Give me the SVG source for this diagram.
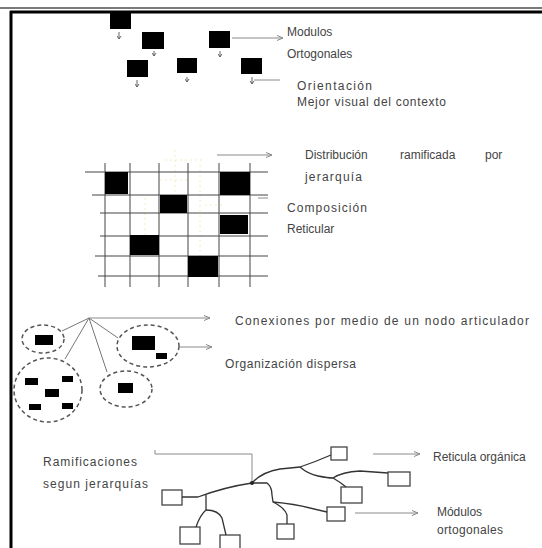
<svg xmlns="http://www.w3.org/2000/svg" width="542" height="548" viewBox="0 0 542 548">
<defs>
<marker id="ah" markerWidth="7" markerHeight="6" refX="6" refY="3" orient="auto" markerUnits="userSpaceOnUse">
<path d="M0,0.5 L6,3 L0,5.5" fill="none" stroke="#888" stroke-width="1"/>
</marker>
<marker id="tk" markerWidth="5" markerHeight="5" refX="3" refY="2.5" orient="auto" markerUnits="userSpaceOnUse">
<path d="M0,0.5 L3,2.5 L0,4.5" fill="none" stroke="#555" stroke-width="0.9"/>
</marker>
<style>
.t{font-family:"Liberation Sans",Arial,sans-serif;font-size:12px;fill:#444}
.blk{fill:#000}
.tick{stroke:#555;stroke-width:0.9}
.con{stroke:#8a8a8a;stroke-width:1;fill:none}
.grid{stroke:#444;stroke-width:1;fill:none}
.ell{fill:none;stroke:#555;stroke-width:1.5;stroke-dasharray:4 3}
.tree{stroke:#333;stroke-width:1.3;fill:none}
.box{fill:#fff;stroke:#444;stroke-width:1.3}
.yl{stroke:#f4ecc4;stroke-width:1;stroke-dasharray:2 3;fill:none}
</style>
</defs>
<rect width="542" height="548" fill="#fff"/>
<!-- frame -->
<line x1="0" y1="8" x2="542" y2="8" stroke="#7a7a7a" stroke-width="2"/>
<line x1="10" y1="12" x2="542" y2="12" stroke="#000" stroke-width="3"/>
<line x1="11" y1="11" x2="11" y2="548" stroke="#000" stroke-width="3"/>

<!-- top modules -->
<g id="mod1"><rect class="blk" x="110" y="12" width="21" height="17"/><line class="tick" x1="119" y1="32" x2="119" y2="39" marker-end="url(#tk)"/></g>
<g id="mod2"><rect class="blk" x="142" y="32" width="22" height="17"/><line class="tick" x1="154" y1="51" x2="154" y2="56" marker-end="url(#tk)"/></g>
<g id="mod3"><rect class="blk" x="127" y="60" width="21" height="17"/><line class="tick" x1="137" y1="80" x2="137" y2="87" marker-end="url(#tk)"/></g>
<g id="mod4"><rect class="blk" x="209" y="31" width="21" height="17"/><line class="tick" x1="220" y1="51" x2="220" y2="57" marker-end="url(#tk)"/></g>
<g id="mod5"><rect class="blk" x="177" y="58" width="20" height="15"/><line class="tick" x1="187" y1="77" x2="187" y2="82" marker-end="url(#tk)"/></g>
<g id="mod6"><rect class="blk" x="241" y="58" width="21" height="16"/><line class="tick" x1="252" y1="77" x2="252" y2="84" marker-end="url(#tk)"/></g>

<!-- grid -->
<g id="grid">
<g class="yl">
<path d="M175,150 L175,215"/><path d="M165,160 L205,160"/><path d="M200,165 L200,268"/><path d="M145,198 L145,238"/><path d="M205,205 L222,205"/><path d="M160,180 L190,180"/>
</g>
<g class="grid">
<line x1="85" y1="172" x2="268" y2="172"/>
<line x1="92" y1="195" x2="268" y2="195"/>
<line x1="100" y1="213" x2="268" y2="213"/>
<line x1="100" y1="236" x2="268" y2="236"/>
<line x1="95" y1="256" x2="268" y2="256"/>
<line x1="98" y1="276" x2="268" y2="276"/>
<line x1="105" y1="163" x2="105" y2="287"/>
<line x1="130" y1="163" x2="130" y2="287"/>
<line x1="159" y1="163" x2="159" y2="287"/>
<line x1="188" y1="163" x2="188" y2="287"/>
<line x1="219" y1="163" x2="219" y2="287"/>
<line x1="250" y1="163" x2="250" y2="287"/>
</g>
<rect class="blk" x="105" y="172" width="23" height="22"/>
<rect class="blk" x="220" y="172" width="30" height="23"/>
<rect class="blk" x="160" y="195" width="27" height="18"/>
<rect class="blk" x="220" y="215" width="28" height="19"/>
<rect class="blk" x="130" y="235" width="29" height="20"/>
<rect class="blk" x="188" y="256" width="30" height="21"/>
</g>

<!-- dispersed groups -->
<g id="grp1"><ellipse class="ell" cx="43" cy="339" rx="21" ry="14"/><rect class="blk" x="35" y="335" width="18" height="10"/></g>
<g id="grp2"><ellipse class="ell" cx="148" cy="346" rx="31" ry="21"/><rect class="blk" x="132" y="336" width="23" height="14"/><rect class="blk" x="156" y="353" width="11" height="6"/></g>
<g id="grp3"><ellipse class="ell" cx="126" cy="389" rx="26" ry="18"/><rect class="blk" x="118" y="383" width="15" height="10"/></g>
<g id="grp4"><ellipse class="ell" cx="48" cy="390" rx="34" ry="32"/>
<rect class="blk" x="25" y="378" width="13" height="7"/><rect class="blk" x="62" y="376" width="11" height="6"/><rect class="blk" x="45" y="389" width="14" height="8"/><rect class="blk" x="29" y="404" width="12" height="6"/><rect class="blk" x="62" y="403" width="11" height="6"/></g>

<!-- tree boxes -->
<g id="b1"><rect class="box" x="162" y="490" width="20" height="15"/></g>
<g id="b2"><rect class="box" x="180" y="527" width="20" height="17"/></g>
<g id="b3"><rect class="box" x="220" y="535" width="20" height="15"/></g>
<g id="b4"><rect class="box" x="277" y="524" width="17" height="15"/></g>
<g id="b5"><rect class="box" x="327" y="507" width="18" height="14"/></g>
<g id="b6"><rect class="box" x="331" y="447" width="16" height="13"/></g>
<g id="b7"><rect class="box" x="388" y="472" width="22" height="14"/></g>
<g id="b8"><rect class="box" x="341" y="487" width="21" height="16"/></g>

<!-- connectors -->
<g id="connectors">
<line class="con" x1="232" y1="38" x2="283" y2="38" marker-end="url(#ah)"/>
<line class="con" x1="254" y1="80" x2="280" y2="80"/>
<line class="con" x1="217" y1="155" x2="272" y2="155" marker-end="url(#ah)"/>
<line class="con" x1="258" y1="198" x2="268" y2="198"/>
<line class="con" x1="89" y1="318" x2="210" y2="318" marker-end="url(#ah)"/>
<g stroke="#777" stroke-width="1" fill="none">
<line x1="89" y1="318" x2="62" y2="331"/>
<line x1="89" y1="318" x2="65" y2="359"/>
<line x1="89" y1="318" x2="107" y2="372"/>
<line x1="89" y1="318" x2="118" y2="338"/>
</g>
<line class="con" x1="180" y1="347" x2="212" y2="347" marker-end="url(#ah)"/>
<path class="con" d="M155,450 L155,454 L252,454 L252,483"/>
<line class="con" x1="373" y1="454" x2="420" y2="454" marker-end="url(#ah)"/>
<line class="con" x1="355" y1="513" x2="418" y2="513" marker-end="url(#ah)"/>
<g class="tree">
<path d="M182,497 L198,497 Q225,487 252,483"/>
<path d="M206,495 L206,510 Q200,515 196,527"/>
<path d="M206,510 Q218,510 222,518 L226,535"/>
<path d="M252,483 L267,483 Q272,487 272,495 L273,502 Q285,508 287,515 L287,524"/>
<path d="M273,502 Q295,504 310,508 L327,512"/>
<path d="M252,483 Q262,472 280,469 L300,467 Q315,462 331,455"/>
<path d="M300,467 Q308,474 318,476 Q328,478 333,478 Q342,472 360,471 L388,473"/>
<path d="M333,478 Q340,482 346,487"/>
</g>
<circle cx="252" cy="483" r="2" fill="#222"/>
</g>

<!-- labels -->
<g id="labels">
<text class="t" x="287" y="36">Modulos</text>
<text class="t" x="287" y="58">Ortogonales</text>
<text class="t" x="297" y="90" textLength="75" lengthAdjust="spacing">Orientación</text>
<text class="t" x="297" y="106" textLength="149" lengthAdjust="spacing">Mejor visual del contexto</text>
<text class="t" x="305" y="159">Distribución</text>
<text class="t" x="400" y="159">ramificada</text>
<text class="t" x="485" y="159">por</text>
<text class="t" x="305" y="181" textLength="57" lengthAdjust="spacing">jerarquía</text>
<text class="t" x="287" y="212" textLength="80" lengthAdjust="spacing">Composición</text>
<text class="t" x="287" y="233">Reticular</text>
<text class="t" x="235" y="325" textLength="294" lengthAdjust="spacing">Conexiones por medio de un nodo articulador</text>
<text class="t" x="225" y="368" textLength="131" lengthAdjust="spacing">Organización dispersa</text>
<text class="t" x="43" y="466" textLength="94" lengthAdjust="spacing">Ramificaciones</text>
<text class="t" x="43" y="488" textLength="105" lengthAdjust="spacing">segun jerarquías</text>
<text class="t" x="433" y="461">Reticula orgánica</text>
<text class="t" x="437" y="516" textLength="45" lengthAdjust="spacing">Módulos</text>
<text class="t" x="437" y="534" textLength="66" lengthAdjust="spacing">ortogonales</text>
</g>
</svg>
